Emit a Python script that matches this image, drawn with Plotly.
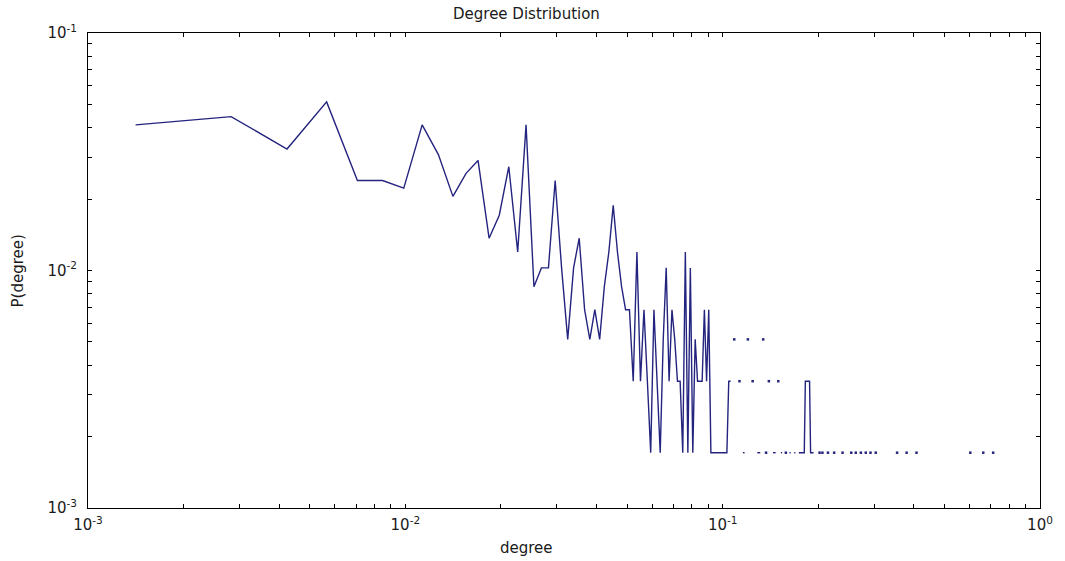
import plotly.graph_objects as go

# ---------------- data ----------------
n_nodes = 585          # normaliser of P(degree)
k_max = 708            # normaliser of degree

# counts for degree k = 1 .. 75 (0 = no node, line is broken there)
head_counts = [24, 26, 19, 30, 14, 14, 13, 24, 18, 12,
               15, 17, 8, 10, 16, 7, 24, 5, 6, 6,
               14, 6, 3, 6, 8, 4, 3, 4, 3, 5,
               7, 11, 7, 5, 4, 4, 2, 7, 2, 4,
               2, 1, 4, 2, 1, 3, 6, 2, 4, 3,
               2, 2, 1, 7, 1, 6, 1, 3, 2, 2,
               2, 4, 2, 4, 1, 1, 1, 1, 1, 1,
               1, 1, 1, 2, 2]

# sparse tail: degrees with non-zero counts beyond k = 75
tail_k = [77, 80, 82, 83, 85, 88, 91, 92, 93, 95, 97, 99, 102, 103, 104, 106,
          108, 109, 112, 115, 116, 119, 120, 123, 124, 125, 126, 127, 128,
          129, 130, 131, 132, 133, 134, 135, 136, 137,
          143, 146, 152, 159, 169, 180, 186, 193, 200, 207, 215,
          251, 269, 289, 427, 469, 504]
tail_counts = [3, 2, 1, 1, 3, 2, 1, 1, 1, 3, 1, 2, 1, 1, 1, 2,
               1, 1, 1, 1, 1, 1, 1, 1, 1, 1, 1, 1, 1,
               2, 2, 2, 2, 2, 1, 1, 1, 1,
               1, 1, 1, 1, 1, 1, 1, 1, 1, 1, 1,
               1, 1, 1, 1, 1, 1]

x_tick_vals = [1e-3, 1e-2, 1e-1, 1e0]
x_tick_text = ["10<sup>-3</sup>", "10<sup>-2</sup>", "10<sup>-1</sup>", "10<sup>0</sup>"]
y_tick_vals = [1e-3, 1e-2, 1e-1]
y_tick_text = ["10<sup>-3</sup>", "10<sup>-2</sup>", "10<sup>-1</sup>"]

# ---------------- build series ----------------
counts = {k: c for k, c in enumerate(head_counts, start=1)}
counts.update(dict(zip(tail_k, tail_counts)))
all_k = list(range(1, max(counts) + 1))
deg = [k / k_max for k in all_k]
prob = [counts[k] / n_nodes if counts.get(k, 0) > 0 else None for k in all_k]

# points with no non-zero neighbour are drawn as small dots
iso_x, iso_y = [], []
for i, k in enumerate(all_k):
    if prob[i] is None:
        continue
    left = prob[i - 1] if i > 0 else None
    right = prob[i + 1] if i + 1 < len(prob) else None
    if left is None and right is None:
        iso_x.append(deg[i])
        iso_y.append(prob[i])

minor_x = [m * 10.0 ** e for e in (-3, -2, -1) for m in range(2, 10)]
minor_y = [m * 10.0 ** e for e in (-3, -2) for m in range(2, 10)]

line_color = "#24247f"
font_family = "DejaVu Sans, Arial, sans-serif"
text_color = "#1a1a1a"

fig = go.Figure()
fig.add_trace(go.Scatter(
    x=deg, y=prob, mode="lines",
    line=dict(color=line_color, width=1.4),
    connectgaps=False, showlegend=False, hoverinfo="skip",
))
fig.add_trace(go.Scatter(
    x=iso_x, y=iso_y, mode="markers",
    marker=dict(color=line_color, size=2.5, symbol="square"),
    showlegend=False, hoverinfo="skip",
))

axis_common = dict(
    showgrid=False, zeroline=False, showline=True, linecolor="#000000",
    linewidth=1, mirror="ticks", ticks="inside", ticklen=4, tickwidth=1,
    tickcolor="#000000",
    tickfont=dict(family=font_family, size=15, color=text_color),
)

fig.update_xaxes(type="log", range=[-3, 0], tickmode="array",
                 tickvals=x_tick_vals, ticktext=x_tick_text,
                 minor=dict(tickmode="array", tickvals=minor_x, ticks="inside",
                            ticklen=4, tickcolor="#000000", showgrid=False),
                 ticklabelstandoff=3,
                 **axis_common)
fig.update_yaxes(type="log", range=[-3, -1], tickmode="array",
                 tickvals=y_tick_vals, ticktext=y_tick_text,
                 minor=dict(tickmode="array", tickvals=minor_y, ticks="inside",
                            ticklen=4, tickcolor="#000000", showgrid=False),
                 ticklabelstandoff=7,
                 **axis_common)

L, R, T, B = 88, 18, 33, 53
W, H = 1065, 561
pw, ph = W - L - R, H - T - B

def px_x(p):
    return (p - L) / pw

def px_y(p):
    return 1 - (p - T) / ph

fig.update_layout(
    width=W, height=H, autosize=False,
    margin=dict(l=L, r=R, t=T, b=B, pad=0),
    paper_bgcolor="white", plot_bgcolor="white",
    annotations=[
        dict(text="Degree Distribution", xref="paper", yref="paper",
             x=px_x(530), y=px_y(14), xanchor="center", yanchor="middle",
             showarrow=False, font=dict(family=font_family, size=15, color=text_color)),
        dict(text="degree", xref="paper", yref="paper",
             x=px_x(530), y=px_y(548), xanchor="center", yanchor="middle",
             showarrow=False, font=dict(family=font_family, size=15, color=text_color)),
        dict(text="P(degree)", xref="paper", yref="paper",
             x=px_x(17), y=px_y(271), xanchor="center", yanchor="middle",
             textangle=-90, showarrow=False,
             font=dict(family=font_family, size=15, color=text_color)),
    ],
)

fig.write_html("out.html")
